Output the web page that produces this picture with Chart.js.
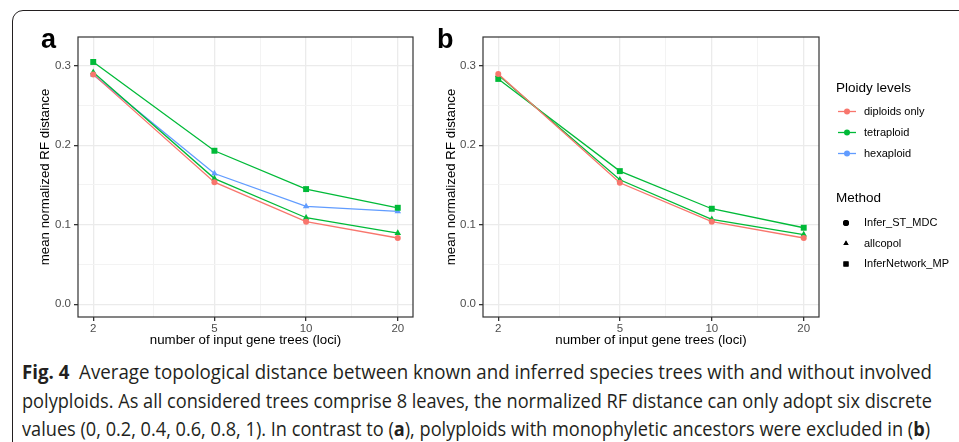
<!DOCTYPE html>
<html>
<head>
<meta charset="utf-8">
<script src="https://cdn.jsdelivr.net/npm/chart.js@4.4.0/dist/chart.umd.min.js"></script>
<style>
  html, body { margin: 0; padding: 0; background: #fff; }
  body { width: 959px; height: 442px; position: relative; overflow: hidden; }
  .frame {
    position: absolute; left: 12px; top: 10px; width: 1000px; height: 500px;
    border: 1.4px solid #231f20; border-radius: 11px 0 0 0;
  }
  canvas { position: absolute; top: 0; }
  #chartA { left: 0; }
  #chartB { left: 420px; }
  .tag { position: absolute; font: bold 27px "Liberation Sans", Arial, sans-serif; color: #000; }
  .cap {
    position: absolute; left: 22px; white-space: nowrap; transform-origin: 0 50%;
    font: 19.5px "Open Sans", "Liberation Sans", sans-serif; color: #231f20;
  }
  .cap b { font-weight: 700; }
</style>
</head>
<body>
<div class="frame"></div>
<canvas id="chartA" width="420" height="355"></canvas>
<canvas id="chartB" width="539" height="355"></canvas>
<div class="tag" style="left:41px; top:24px;">a</div>
<div class="tag" style="left:437px; top:24px;">b</div>
<div class="cap" id="cap1" data-w="910" style="top:358px;"><b>Fig. 4</b>&nbsp; Average topological distance between known and inferred species trees with and without involved</div>
<div class="cap" id="cap2" data-w="910" style="top:387px;">polyploids. As all considered trees comprise 8 leaves, the normalized RF distance can only adopt six discrete</div>
<div class="cap" id="cap3" data-w="908" style="top:415px;">values (0, 0.2, 0.4, 0.6, 0.8, 1). In contrast to (<b>a</b>), polyploids with monophyletic ancestors were excluded in (<b>b</b>)</div>
<script>
// number of input gene trees
const loci = [2, 5, 10, 20];
const yTicks = [0, 0.1, 0.2, 0.3];

// panel a
const aDiploidMDC = [0.289, 0.1535, 0.1038, 0.0833];
const aTetraAllcopol = [0.2916, 0.158, 0.1088, 0.0895];
const aTetraInferNet = [0.3046, 0.193, 0.1448, 0.1213];
const aHexaAllcopol = [0.2887, 0.1644, 0.123, 0.1167];

// panel b
const bDiploidMDC = [0.2896, 0.1527, 0.1038, 0.0833];
const bTetraAllcopol = [0.2883, 0.1565, 0.1067, 0.0875];
const bTetraInferNet = [0.2833, 0.1674, 0.1201, 0.0962];

const ploidyLevels = ['diploids only', 'tetraploid', 'hexaploid'];
const methods = ['Infer_ST_MDC', 'allcopol', 'InferNetwork_MP'];

const RED = '#F8766D', GREEN = '#00BA38', BLUE = '#619CFF';
const colors = [RED, GREEN, BLUE];
const shapes = ['circle', 'triangle', 'rect'];
const FONT = '"Liberation Sans", Arial, sans-serif';

function series(values, color, shape) {
    return {
        data: values.map((v, i) => ({ x: loci[i], y: v })),
        borderColor: color,
        backgroundColor: color,
        borderWidth: 1.3,
        pointStyle: shape,
        pointRadius: shape === 'rect' ? 4.2 : (shape === 'triangle' ? 3.8 : 3),
        pointBorderWidth: 0,
        tension: 0
    };
}

// geometric midpoints between major ticks -> minor grid lines
function withMinor(vals, logScale) {
    const out = [];
    vals.forEach((v, i) => {
        out.push({ value: v, major: true });
        if (i < vals.length - 1) {
            const m = logScale ? Math.sqrt(v * vals[i + 1]) : (v + vals[i + 1]) / 2;
            out.push({ value: m, major: false });
        }
    });
    return out;
}

const panelBorder = {
    id: 'panelBorder',
    afterDraw(chart) {
        const { ctx, chartArea: a } = chart;
        ctx.save();
        ctx.strokeStyle = '#333';
        ctx.lineWidth = 1.2;
        ctx.strokeRect(a.left, a.top, a.right - a.left, a.bottom - a.top);
        ctx.restore();
    }
};

const legendPlugin = {
    id: 'ggLegend',
    afterDraw(chart) {
        const ctx = chart.ctx;
        const x0 = 416;
        ctx.save();
        ctx.textBaseline = 'middle';
        ctx.fillStyle = '#000';
        ctx.font = '13.5px ' + FONT;
        ctx.fillText('Ploidy levels', x0, 88);
        ctx.fillText('Method', x0, 198);
        ctx.font = '11px ' + FONT;
        ploidyLevels.forEach((name, i) => {
            const y = 111.5 + i * 21;
            ctx.strokeStyle = colors[i];
            ctx.lineWidth = 1.3;
            ctx.beginPath();
            ctx.moveTo(x0 + 2, y);
            ctx.lineTo(x0 + 20, y);
            ctx.stroke();
            ctx.fillStyle = colors[i];
            ctx.beginPath();
            ctx.arc(x0 + 11, y, 3, 0, Math.PI * 2);
            ctx.fill();
            ctx.fillStyle = '#000';
            ctx.fillText(name, x0 + 28, y);
        });
        methods.forEach((name, i) => {
            const y = 223 + i * 20.5;
            Chart.helpers.drawPoint(ctx, {
                pointStyle: shapes[i],
                radius: shapes[i] === 'rect' ? 3.6 : 3,
                borderWidth: 0
            }, x0 + 10, y);
            ctx.fillStyle = '#000';
            ctx.fill();
            ctx.fillText(name, x0 + 28, y);
        });
        ctx.restore();
    }
};

function makeChart(id, datasets, yAxisWidth, yTitleCenter, padRight, extraPlugins) {
    const xTickVals = withMinor(loci, true);
    const yTickVals = withMinor(yTicks, false);
    const isMajor = ctx => ctx.tick && ctx.tick.major;
    return new Chart(document.getElementById(id), {
        type: 'line',
        data: { datasets: datasets },
        options: {
            responsive: false,
            animation: false,
            devicePixelRatio: 1,
            layout: { padding: { top: 37, right: padRight, left: 0, bottom: 0 } },
            plugins: { legend: { display: false }, tooltip: { enabled: false } },
            scales: {
                x: {
                    type: 'logarithmic',
                    min: Math.pow(10, Math.log10(loci[0]) - 0.05),
                    max: Math.pow(10, Math.log10(loci[loci.length - 1]) + 0.05),
                    afterBuildTicks: s => { s.ticks = xTickVals.map(t => ({ ...t })); },
                    afterFit: s => { s.height = 38; },
                    border: { display: false },
                    grid: {
                        color: c => isMajor(c) ? '#ebebeb' : '#f3f3f3',
                        lineWidth: c => isMajor(c) ? 1.3 : 1,
                        tickColor: c => isMajor(c) ? '#333' : 'rgba(0,0,0,0)',
                        tickLength: 4,
                        drawTicks: true
                    },
                    ticks: {
                        autoSkip: false, maxRotation: 0, padding: 1,
                        color: '#4d4d4d', font: { family: FONT, size: 11.5 },
                        callback: (v, i, ticks) => ticks[i].major ? String(v) : ''
                    },
                    title: {
                        display: true, text: 'number of input gene trees (loci)',
                        color: '#000', font: { family: FONT, size: 13.3, lineHeight: 1.2 },
                        padding: { top: 0, bottom: 7 }
                    }
                },
                y: {
                    min: -0.016,
                    max: 0.336,
                    afterBuildTicks: s => { s.ticks = yTickVals.map(t => ({ ...t })); },
                    afterFit: s => { s.width = yAxisWidth; },
                    border: { display: false },
                    grid: {
                        color: c => isMajor(c) ? '#ebebeb' : '#f3f3f3',
                        lineWidth: c => isMajor(c) ? 1.3 : 1,
                        tickColor: c => isMajor(c) ? '#333' : 'rgba(0,0,0,0)',
                        tickLength: 4,
                        drawTicks: true
                    },
                    ticks: {
                        padding: 3,
                        color: '#4d4d4d', font: { family: FONT, size: 11.5 },
                        callback: (v, i, ticks) => ticks[i].major ? Number(v).toFixed(1) : ''
                    },
                    title: {
                        display: true, text: 'mean normalized RF distance',
                        color: '#000', font: { family: FONT, size: 13.3, lineHeight: 1.2 },
                        padding: { top: yTitleCenter - 8, bottom: 0 }
                    }
                }
            }
        },
        plugins: [panelBorder].concat(extraPlugins || [])
    });
}

makeChart('chartA', [
    series(aDiploidMDC, RED, 'circle'),
    series(aTetraAllcopol, GREEN, 'triangle'),
    series(aTetraInferNet, GREEN, 'rect'),
    series(aHexaAllcopol, BLUE, 'triangle')
], 78, 45, 7);

makeChart('chartB', [
    series(bDiploidMDC, RED, 'circle'),
    series(bTetraAllcopol, GREEN, 'triangle'),
    series(bTetraInferNet, GREEN, 'rect')
], 63, 31, 140, [legendPlugin]);

// squeeze caption lines to the reference widths
document.querySelectorAll('.cap').forEach(el => {
    const target = parseFloat(el.dataset.w);
    const w = el.getBoundingClientRect().width;
    el.style.transform = 'scaleX(' + (target / w) + ')';
});
</script>
</body>
</html>
